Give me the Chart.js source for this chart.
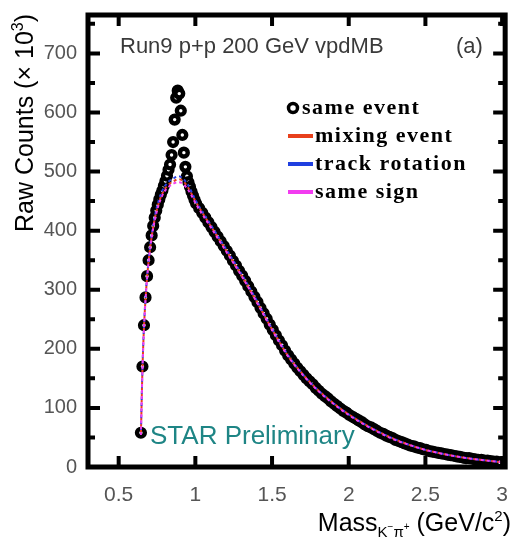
<!DOCTYPE html>
<html>
<head>
<meta charset="utf-8">
<script src="https://cdn.jsdelivr.net/npm/chart.js@4.4.1/dist/chart.umd.min.js"></script>
<style>
  body { margin: 0; background: #fff; }
  #chart { display: block; }
</style>
</head>
<body>
<canvas id="chart" width="516" height="544"></canvas>
<script>
// same event: bin centres (GeV/c^2) and raw counts (x 10^3)
var sameMass = [
  0.645, 0.655, 0.665, 0.675, 0.685, 0.695, 0.705, 0.715, 0.725, 0.735,
  0.745, 0.755, 0.765, 0.775, 0.785, 0.795, 0.805, 0.815, 0.825, 0.835,
  0.845, 0.855, 0.865, 0.875, 0.885, 0.895, 0.905, 0.915, 0.925, 0.935,
  0.945, 0.955, 0.965, 0.975, 0.985, 0.995,
  1.005, 1.025, 1.045, 1.065, 1.085, 1.105, 1.125, 1.145, 1.165, 1.185,
  1.205, 1.225, 1.245, 1.265, 1.285, 1.305, 1.325, 1.345, 1.365, 1.385,
  1.405, 1.425, 1.445, 1.465, 1.485, 1.505, 1.525, 1.545, 1.565, 1.585,
  1.605, 1.625, 1.645, 1.665, 1.685, 1.705, 1.725, 1.745, 1.765, 1.785,
  1.805, 1.825, 1.845, 1.865, 1.885, 1.905, 1.925, 1.945, 1.965, 1.985,
  2.005, 2.025, 2.045, 2.065, 2.085, 2.105, 2.125, 2.145, 2.165, 2.185,
  2.205, 2.225, 2.245, 2.265, 2.285, 2.305, 2.325, 2.345, 2.365, 2.385,
  2.405, 2.425, 2.445, 2.465, 2.485, 2.505, 2.525, 2.545, 2.565, 2.585,
  2.605, 2.625, 2.645, 2.665, 2.685, 2.705, 2.725, 2.745, 2.765, 2.785,
  2.805, 2.825, 2.845, 2.865, 2.885, 2.905, 2.925, 2.945, 2.965, 2.985
];
var sameCounts = [
  58, 170, 240, 287, 323, 350, 372, 392, 408, 422,
  434, 444, 453, 461, 468, 476, 484, 493, 503, 512,
  528, 550, 588, 625, 637, 632, 603, 562, 532, 508,
  492, 482, 474, 466, 459, 452,
  446, 438, 430, 422, 414, 406, 398, 390, 382, 374,
  366, 358, 349, 341, 332, 324, 315, 306, 297, 288,
  279, 269, 260, 251, 241, 232, 223, 214, 206, 197,
  189, 182, 175, 168, 162, 156, 150, 145, 140, 134,
  129, 124, 120, 116, 111, 107, 103, 99, 95, 92,
  88, 85, 82, 79, 76, 72, 69, 67, 64, 61,
  58, 56, 53, 51, 49, 46, 44, 42, 40, 38,
  36, 35, 33, 32, 30, 29, 27, 26, 25, 24,
  23, 22, 21, 20, 19, 18, 17, 16, 15, 15,
  14, 13, 12, 12, 11, 11, 10, 9, 9, 8
];

// background estimates
var bgMass = [
  0.645, 0.655, 0.665, 0.675, 0.685, 0.70, 0.72, 0.74, 0.76, 0.78,
  0.80, 0.83, 0.86, 0.89, 0.92, 0.95, 0.98, 1.0, 1.1, 1.2,
  1.3, 1.4, 1.5, 1.6, 1.7, 1.8, 1.9, 2.0, 2.1, 2.2,
  2.3, 2.4, 2.5, 2.6, 2.7, 2.8, 2.9, 3.0
];
var mixingCounts = [
  55, 165, 236, 284, 320, 360, 398, 426, 446, 460,
  470, 479, 484, 487, 484, 474, 460, 450, 408, 367,
  325, 280, 233, 190, 157, 130, 108, 89, 73, 59,
  47, 37, 29, 23, 18, 14, 11, 8
];
var rotationCounts = [
  56, 167, 238, 286, 322, 362, 401, 430, 450, 465,
  475, 484, 489, 492, 488, 478, 463, 452, 410, 369,
  327, 282, 234, 191, 157, 130, 108, 89, 73, 59,
  47, 37, 29, 23, 18, 14, 11, 8
];
var sameSignCounts = [
  54, 163, 234, 282, 318, 357, 396, 423, 443, 457,
  467, 475, 480, 482, 479, 470, 457, 447, 406, 365,
  324, 279, 232, 189, 156, 129, 107, 88, 72, 58,
  46, 37, 29, 23, 18, 14, 11, 8
];

var xTicks = [0.5, 1, 1.5, 2, 2.5, 3];
var yTicks = [0, 100, 200, 300, 400, 500, 600, 700];
var yMinorTicks = [50, 150, 250, 350, 450, 550, 650, 750];

var legendItems = [
  { label: 'same event', kind: 'circle', color: '#000' },
  { label: 'mixing event', kind: 'line', color: '#e8401c' },
  { label: 'track rotation', kind: 'line', color: '#1f3fe0' },
  { label: 'same sign', kind: 'line', color: '#f23cf0' }
];

var SANS = '"Liberation Sans", Arial, sans-serif';

function toPoints(xs, ys) {
  return xs.map(function (x, i) { return { x: x, y: ys[i] }; });
}

// draws a run of text pieces (for sub/superscripts)
function richText(ctx, parts, x, y, align) {
  var total = 0;
  parts.forEach(function (p) {
    ctx.font = p.size + 'px ' + SANS;
    p.w = ctx.measureText(p.t).width;
    total += p.w;
  });
  var cx = align === 'right' ? x - total : (align === 'center' ? x - total / 2 : x);
  ctx.textAlign = 'left';
  ctx.textBaseline = 'alphabetic';
  parts.forEach(function (p) {
    ctx.font = p.size + 'px ' + SANS;
    ctx.fillText(p.t, cx, y + (p.dy || 0));
    cx += p.w;
  });
}

var decorations = {
  id: 'decorations',
  afterDraw: function (chart) {
    var ctx = chart.ctx;
    var a = chart.chartArea;
    var xs = chart.scales.x, ys = chart.scales.y;
    ctx.save();

    // frame
    ctx.strokeStyle = '#000';
    ctx.lineWidth = 5;
    ctx.strokeRect(a.left, a.top, a.right - a.left, a.bottom - a.top);

    // inward ticks
    ctx.lineWidth = 4;
    ctx.beginPath();
    xTicks.forEach(function (v) {
      var px = xs.getPixelForValue(v);
      ctx.moveTo(px, a.bottom); ctx.lineTo(px, a.bottom - 11);
      ctx.moveTo(px, a.top); ctx.lineTo(px, a.top + 11);
    });
    yTicks.forEach(function (v) {
      var py = ys.getPixelForValue(v);
      ctx.moveTo(a.left, py); ctx.lineTo(a.left + 12, py);
      ctx.moveTo(a.right, py); ctx.lineTo(a.right - 12, py);
    });
    yMinorTicks.forEach(function (v) {
      var py = ys.getPixelForValue(v);
      ctx.moveTo(a.left, py); ctx.lineTo(a.left + 7, py);
      ctx.moveTo(a.right, py); ctx.lineTo(a.right - 7, py);
    });
    ctx.stroke();

    // header texts
    ctx.fillStyle = '#3a3a3a';
    ctx.font = '22px ' + SANS;
    ctx.textAlign = 'left';
    ctx.textBaseline = 'middle';
    ctx.fillText('Run9 p+p 200 GeV vpdMB', 120, 47);
    ctx.fillText('(a)', 456, 47);

    // legend
    legendItems.forEach(function (it, i) {
      var y = 108 + i * 28;
      if (it.kind === 'circle') {
        ctx.beginPath();
        ctx.lineWidth = 3.5;
        ctx.strokeStyle = '#000';
        ctx.arc(293, y, 4.5, 0, Math.PI * 2);
        ctx.stroke();
      } else {
        ctx.beginPath();
        ctx.lineWidth = 4;
        ctx.strokeStyle = it.color;
        ctx.moveTo(288, y); ctx.lineTo(313, y);
        ctx.stroke();
      }
      ctx.fillStyle = '#000';
      ctx.font = 'bold 22px "Liberation Serif", "Times New Roman", serif';
      ctx.letterSpacing = '1.5px';
      ctx.textAlign = 'left';
      ctx.textBaseline = 'middle';
      ctx.fillText(it.label, it.kind === 'circle' ? 302 : 315, y);
      ctx.letterSpacing = '0px';
    });

    // STAR Preliminary
    ctx.fillStyle = '#1e8585';
    ctx.font = '26px ' + SANS;
    ctx.fillText('STAR Preliminary', 150, 437);

    // axis titles
    ctx.fillStyle = '#000';
    richText(ctx, [
      { t: 'Mass', size: 25 },
      { t: 'K', size: 15, dy: 6 },
      { t: '\u2212', size: 10, dy: -1 },
      { t: '\u03c0', size: 15, dy: 6 },
      { t: '+', size: 10, dy: -1 },
      { t: ' (GeV/c', size: 25 },
      { t: '2', size: 15, dy: -10 },
      { t: ')', size: 25 }
    ], 511, 531, 'right');

    ctx.translate(33, 123);
    ctx.rotate(-Math.PI / 2);
    richText(ctx, [
      { t: 'Raw Counts (\u00d7 10', size: 25 },
      { t: '3', size: 16, dy: -10 },
      { t: ')', size: 25 }
    ], 0, 0, 'center');

    ctx.restore();
  }
};

function bgLine(label, values, color, offset, order) {
  return {
    label: label,
    data: toPoints(bgMass, values),
    borderColor: color,
    borderWidth: 2,
    borderDash: [3, 3],
    borderDashOffset: offset,
    pointRadius: 0,
    cubicInterpolationMode: 'monotone',
    order: order
  };
}

var ctx = document.getElementById('chart').getContext('2d');
var myChart = new Chart(ctx, {
  type: 'line',
  data: {
    datasets: [
      bgLine('same sign', sameSignCounts, '#f23cf0', 0, 1),
      bgLine('track rotation', rotationCounts, '#2a3fe0', 2, 2),
      bgLine('mixing event', mixingCounts, '#e8401c', 4, 3),
      {
        label: 'same event',
        data: toPoints(sameMass, sameCounts),
        showLine: false,
        pointRadius: 3.9,
        pointBorderWidth: 4.4,
        pointBorderColor: '#000',
        pointBackgroundColor: '#fff',
        order: 4
      }
    ]
  },
  options: {
    responsive: false,
    animation: false,
    layout: { padding: { top: 8, right: 5, left: 0, bottom: 0 } },
    plugins: {
      legend: { display: false },
      tooltip: { enabled: false }
    },
    scales: {
      x: {
        type: 'linear',
        min: 0.3,
        max: 3.02,
        afterFit: function (s) { s.height = 77; },
        afterBuildTicks: function (s) { s.ticks = xTicks.map(function (v) { return { value: v }; }); },
        grid: { display: false },
        border: { display: false },
        ticks: {
          padding: 8,
          color: '#555',
          maxRotation: 0,
          font: { family: SANS, size: 21 },
          callback: function (v) { return String(v); }
        }
      },
      y: {
        min: 0,
        max: 765,
        afterFit: function (s) { s.width = 88; },
        afterBuildTicks: function (s) { s.ticks = yTicks.map(function (v) { return { value: v }; }); },
        grid: { display: false },
        border: { display: false },
        ticks: {
          padding: 3,
          color: '#555',
          font: { family: SANS, size: 20 },
          callback: function (v) { return String(v); }
        }
      }
    }
  },
  plugins: [decorations]
});
</script>
</body>
</html>
